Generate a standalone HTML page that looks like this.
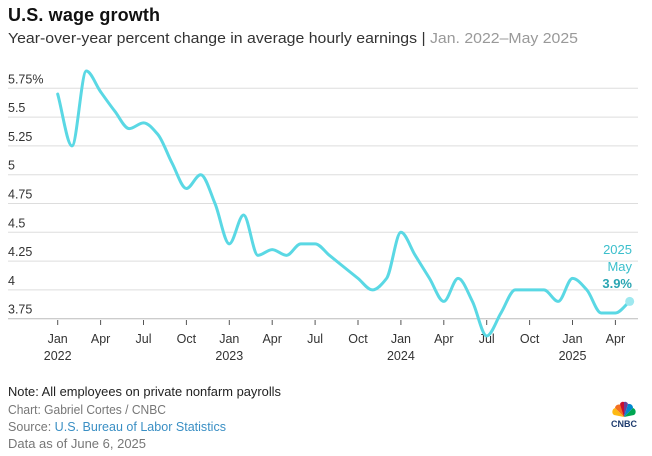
<!DOCTYPE html>
<html><head><meta charset="utf-8"><style>
body{margin:0;background:#fff;width:652px;height:456px;overflow:hidden;font-family:"Liberation Sans",sans-serif}
svg{display:block}
</style></head><body>
<svg width="652" height="456">
<text x="8" y="21" font-size="18" font-weight="bold" fill="#111" textLength="152">U.S. wage growth</text>
<text x="8" y="43" font-size="15" fill="#333" textLength="570" lengthAdjust="spacingAndGlyphs">Year-over-year percent change in average hourly earnings | <tspan fill="#999">Jan. 2022–May 2025</tspan></text>
<g id="grid"></g>
<g id="xaxis"></g>
<path id="line" fill="none" stroke="#5ad8e4" stroke-width="3" stroke-linejoin="round" stroke-linecap="round"></path>
<circle id="endpt" r="4.5" fill="#9fe8ef"></circle>
<text x="632" y="254" font-size="13" fill="#3bbfcc" text-anchor="end">2025</text>
<text x="632" y="271" font-size="13" fill="#3bbfcc" text-anchor="end">May</text>
<text x="632" y="288" font-size="13" font-weight="bold" fill="#2aa5b2" text-anchor="end">3.9%</text>
<g font-size="12.5">
<text x="8" y="396" fill="#222" textLength="273" lengthAdjust="spacingAndGlyphs">Note: All employees on private nonfarm payrolls</text>
<text x="8" y="414" fill="#777" textLength="158" lengthAdjust="spacingAndGlyphs">Chart: Gabriel Cortes / CNBC</text>
<text x="8" y="431" fill="#777" textLength="218" lengthAdjust="spacingAndGlyphs">Source: <tspan fill="#3a8fc4">U.S. Bureau of Labor Statistics</tspan></text>
<text x="8" y="448" fill="#777" textLength="138" lengthAdjust="spacingAndGlyphs">Data as of June 6, 2025</text>
</g>
<g transform="translate(624,417)">
<path d="M0,0 L-9,-9 A4,4 0 0 1 -3,-12 Z" fill="#f37021"/>
<path d="M0,0 L-4,-13 A3,3 0 0 1 0,-15 Z" fill="#c8102e"/>
<path d="M0,0 L0,-15 A3,3 0 0 1 4,-13 Z" fill="#6e3e98"/>
<path d="M0,0 L4,-13 A4,4 0 0 1 9,-9 Z" fill="#0089cf"/>
<path d="M0,0 L9,-9 A4,4 0 0 1 10,-2 Z" fill="#00a651"/>
<path d="M0,0 L-9,-9 A4,4 0 0 0 -10,-2 Z" fill="#fdb913"/>
<text x="0" y="10" font-size="9" font-weight="bold" fill="#1d3b6e" text-anchor="middle">CNBC</text>
</g>
</svg>
<script>
const yTicks=[5.75,5.5,5.25,5,4.75,4.5,4.25,4,3.75];
const yTickLabels=["5.75%","5.5","5.25","5","4.75","4.5","4.25","4","3.75"];
const xTickMonths=[0,3,6,9,12,15,18,21,24,27,30,33,36,39];
const xTickLabels=["Jan","Apr","Jul","Oct","Jan","Apr","Jul","Oct","Jan","Apr","Jul","Oct","Jan","Apr"];
const xYearLabels=["2022","","","","2023","","","","2024","","","","2025",""];
const values=[5.7,5.25,5.9,5.72,5.55,5.4,5.45,5.35,5.1,4.88,5.0,4.75,4.4,4.65,4.3,4.35,4.3,4.4,4.4,4.3,4.2,4.1,4.0,4.1,4.5,4.3,4.1,3.9,4.1,3.9,3.6,3.8,4.0,4.0,4.0,3.9,4.1,4.0,3.8,3.8,3.9];
const NS='http://www.w3.org/2000/svg';
const x=m=>57.7+m*14.3;
const y=v=>88.3+(5.75-v)/0.25*28.8;
const grid=document.getElementById('grid');
yTicks.forEach((t,i)=>{
 const l=document.createElementNS(NS,'line');
 l.setAttribute('x1',8);l.setAttribute('x2',638);l.setAttribute('y1',y(t));l.setAttribute('y2',y(t));
 l.setAttribute('stroke',i===yTicks.length-1?'#bbb':'#ddd');l.setAttribute('stroke-width',1);
 
 
 grid.appendChild(l);
 const tx=document.createElementNS(NS,'text');
 tx.setAttribute('x',8);tx.setAttribute('y',y(t)-5);tx.setAttribute('font-size','12.5');tx.setAttribute('fill','#333');
 tx.textContent=yTickLabels[i];
 
 
 grid.appendChild(tx);
});
const xa=document.getElementById('xaxis');
xTickMonths.forEach((m,i)=>{
 const l=document.createElementNS(NS,'line');
 l.setAttribute('x1',x(m));l.setAttribute('x2',x(m));l.setAttribute('y1',320);l.setAttribute('y2',325);
 l.setAttribute('stroke','#555');
 
 
 xa.appendChild(l);
 const t=document.createElementNS(NS,'text');
 t.setAttribute('x',x(m));t.setAttribute('y',343);t.setAttribute('font-size','12.5');t.setAttribute('fill','#333');t.setAttribute('text-anchor','middle');
 t.textContent=xTickLabels[i];
 
 
 xa.appendChild(t);
 if(xYearLabels[i]){
  const t2=document.createElementNS(NS,'text');
  t2.setAttribute('x',x(m));t2.setAttribute('y',360);t2.setAttribute('font-size','12.5');t2.setAttribute('fill','#333');t2.setAttribute('text-anchor','middle');
  t2.textContent=xYearLabels[i];
  
  
  xa.appendChild(t2);
 }
});
const px=values.map((v,i)=>x(i)),py=values.map(v=>y(v));
const n=values.length,d=[],mm=[];
for(let i=0;i<n-1;i++)d.push((py[i+1]-py[i])/(px[i+1]-px[i]));
for(let i=0;i<n;i++){
 if(i===0)mm.push(d[0]);else if(i===n-1)mm.push(d[n-2]);
 else if(d[i-1]*d[i]<=0)mm.push(0);else mm.push(2/(1/d[i-1]+1/d[i]));
}
let p='M'+px[0]+','+py[0];
for(let i=0;i<n-1;i++){
 const h=(px[i+1]-px[i])/3;
 p+=' C'+(px[i]+h)+','+(py[i]+mm[i]*h)+' '+(px[i+1]-h)+','+(py[i+1]-mm[i+1]*h)+' '+px[i+1]+','+py[i+1];
}
document.getElementById('line').setAttribute('d',p);
const e=document.getElementById('endpt');
e.setAttribute('cx',px[n-1]);e.setAttribute('cy',py[n-1]);
</script>
</body></html>
